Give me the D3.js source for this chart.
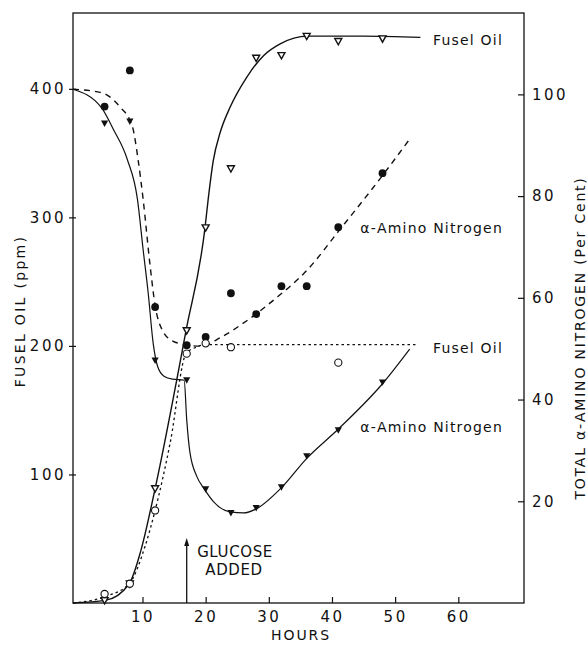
<!DOCTYPE html>
<html>
<head>
<meta charset="utf-8">
<script src="https://cdn.jsdelivr.net/npm/d3@7/dist/d3.min.js"></script>
<style>
  body { margin: 0; background: #fff; }
  svg { display: block; }
  text { font-family: "DejaVu Sans", sans-serif; fill: #111; }
</style>
</head>
<body>
<script>
// ---- data ----
const hourTicks = [10, 20, 30, 40, 50, 60];
const ppmTicks = [100, 200, 300, 400];
const pctTicks = [20, 40, 60, 80, 100];

// experiment A (solid lines): fusel oil (open triangles, ppm), amino N (filled triangles, %)
const fuselA = [[4, 2], [8, 15], [12, 89], [17, 212], [20, 292], [24, 338], [28, 424], [32, 426], [36, 441], [41, 437], [48, 439]];
const aminoA = [[4, 94.3], [8, 94.7], [12, 47.7], [17, 43.8], [20, 22.4], [24, 17.7], [28, 18.7], [32, 22.8], [36, 28.9], [41, 34], [48, 43.4]];
// experiment B: fusel oil (open circles, dotted, ppm), amino N (filled circles, dashed, %)
const fuselB = [[4, 7], [8, 15], [12, 72], [17, 194], [20, 202], [24, 199], [41, 187]];
const aminoB = [[4, 97.6], [8, 104.7], [12, 58.2], [17, 50.7], [20, 52.3], [24, 60.9], [28, 56.8], [32, 62.3], [36, 62.3], [41, 73.9], [48, 84.5]];

// hand-drawn curves
const fuselCurveA = [[-1, 0], [4.1, 2], [7.9, 15], [9.7, 40], [12, 89], [16.9, 212], [19.9, 292], [20.4, 314], [21.2, 344], [22.3, 366], [23.9, 386], [26.5, 409], [29.2, 426], [31.8, 435], [36.1, 441], [45, 441], [54, 440]];
const fuselCurveB = [[-1, 0], [4.1, 5], [7.9, 15], [10.4, 44], [12, 72], [14.4, 125], [16.9, 194], [18.5, 199], [20, 201], [24, 201], [40, 201], [53.5, 201]];
const aminoCurveA = [[-1, 101], [3.5, 97.4], [5.4, 93.1], [7.6, 87.2], [9.2, 79.4], [10.1, 69.5], [10.9, 61], [11.7, 51], [12.4, 46.5], [13.4, 44.6], [14.8, 44], [16.6, 43.8], [17, 36.1], [17.5, 29.7], [18.6, 24.9], [19.8, 22.4], [21.2, 20], [23.9, 17.9], [26, 17.7], [28, 18.5], [32.1, 22.8], [35.9, 28.3], [41.1, 34.3], [48.2, 43.4], [52.3, 49.9]];
const aminoCurveB = [[-1, 101], [3.3, 100.4], [6.4, 97.6], [8.4, 93.7], [9.3, 87.2], [10.1, 79.4], [11.2, 66.4], [12, 58.5], [13.2, 53.5], [14.8, 51.5], [16.4, 50.9], [19.1, 50.5], [22.5, 52.3], [26.4, 55.4], [31, 59.8], [36.1, 65.5], [41.3, 73.5], [48.4, 84.7], [52.3, 91.2]];

const glucoseHour = 17;

// ---- layout ----
const W = 588, H = 646;
const plotL = 73, plotR = 524, plotT = 13, plotB = 603;

const svg = d3.select("body").append("svg").attr("width", W).attr("height", H);

const x = d3.scaleLinear().domain([-1, 70.4]).range([plotL, plotR]);
const yL = d3.scaleLinear().domain([0, 459]).range([plotB, plotT]);
const yR = d3.scaleLinear().domain([0, 116]).range([plotB, plotT]);

const ink = "#111";

// frame
svg.append("rect")
  .attr("x", plotL).attr("y", plotT)
  .attr("width", plotR - plotL).attr("height", plotB - plotT)
  .attr("fill", "none").attr("stroke", ink).attr("stroke-width", 1.3);

// axes
const xAxis = svg.append("g").attr("transform", `translate(0,${plotB})`)
  .call(d3.axisBottom(x).tickValues(hourTicks).tickSizeInner(-6).tickSizeOuter(0).tickPadding(8));
const lAxis = svg.append("g").attr("transform", `translate(${plotL},0)`)
  .call(d3.axisLeft(yL).tickValues(ppmTicks).tickSizeInner(4).tickSizeOuter(0).tickPadding(3));
const rAxis = svg.append("g").attr("transform", `translate(${plotR},0)`)
  .call(d3.axisRight(yR).tickValues(pctTicks).tickSizeInner(-6).tickSizeOuter(0).tickPadding(8));

[xAxis, lAxis, rAxis].forEach(g => {
  g.select(".domain").remove();
  g.selectAll(".tick line").attr("stroke", ink).attr("stroke-width", 1.2);
  g.selectAll(".tick text")
    .style("font-family", "DejaVu Sans, sans-serif")
    .style("font-size", "15px")
    .style("letter-spacing", "2.5px")
    .attr("fill", ink);
});
lAxis.selectAll(".tick line").attr("x1", 3);

// curves
const lineL = d3.line().x(d => x(d[0])).y(d => yL(d[1])).curve(d3.curveMonotoneX);
const lineR = d3.line().x(d => x(d[0])).y(d => yR(d[1])).curve(d3.curveMonotoneX);

svg.append("path").attr("d", lineL(fuselCurveA))
  .attr("fill", "none").attr("stroke", ink).attr("stroke-width", 1.4);
svg.append("path").attr("d", lineR(aminoCurveA))
  .attr("fill", "none").attr("stroke", ink).attr("stroke-width", 1.2);
svg.append("path").attr("d", lineR(aminoCurveB))
  .attr("fill", "none").attr("stroke", ink).attr("stroke-width", 1.4).attr("stroke-dasharray", "6,5");
svg.append("path").attr("d", lineL(fuselCurveB))
  .attr("fill", "none").attr("stroke", ink).attr("stroke-width", 1.3).attr("stroke-dasharray", "2.5,3");

// markers
const tri = (cx, cy, s) => `M${cx - s},${cy - s * 0.8}L${cx + s},${cy - s * 0.8}L${cx},${cy + s}Z`;

svg.append("g").selectAll("path").data(fuselA).join("path")
  .attr("d", d => tri(x(d[0]), yL(d[1]), 3.5))
  .attr("fill", "#fff").attr("stroke", ink).attr("stroke-width", 1.4);
svg.append("g").selectAll("path").data(aminoA).join("path")
  .attr("d", d => tri(x(d[0]), yR(d[1]), 3.6))
  .attr("fill", ink);
svg.append("g").selectAll("circle").data(aminoB).join("circle")
  .attr("cx", d => x(d[0])).attr("cy", d => yR(d[1])).attr("r", 3.9)
  .attr("fill", ink);
svg.append("g").selectAll("circle").data(fuselB).join("circle")
  .attr("cx", d => x(d[0])).attr("cy", d => yL(d[1])).attr("r", 3.6)
  .attr("fill", "#fff").attr("stroke", ink).attr("stroke-width", 1.1);

// curve labels
const labelStyle = sel => sel
  .attr("text-anchor", "end")
  .style("font-size", "14px")
  .style("letter-spacing", "1.2px");
svg.append("text").attr("x", 503).attr("y", 45).text("Fusel Oil").call(labelStyle);
svg.append("text").attr("x", 503).attr("y", 233).text("α-Amino Nitrogen").call(labelStyle);
svg.append("text").attr("x", 503).attr("y", 353).text("Fusel Oil").call(labelStyle);
svg.append("text").attr("x", 503).attr("y", 432).text("α-Amino Nitrogen").call(labelStyle);

// glucose arrow
const gx = x(glucoseHour);
svg.append("line").attr("x1", gx).attr("x2", gx).attr("y1", plotB).attr("y2", 544)
  .attr("stroke", ink).attr("stroke-width", 1.3);
svg.append("path").attr("d", `M${gx - 2.5},${546}L${gx + 2.5},${546}L${gx},${538}Z`).attr("fill", ink);
svg.append("text").attr("x", 235).attr("y", 557).attr("text-anchor", "middle")
  .style("font-size", "15px").style("letter-spacing", "0.6px").text("GLUCOSE");
svg.append("text").attr("x", 234).attr("y", 575).attr("text-anchor", "middle")
  .style("font-size", "15px").style("letter-spacing", "0.6px").text("ADDED");

// axis titles
svg.append("text").attr("x", 301).attr("y", 640).attr("text-anchor", "middle")
  .style("font-size", "14px").style("letter-spacing", "1.9px").text("HOURS");
svg.append("text").attr("transform", "translate(25,311) rotate(-90)").attr("text-anchor", "middle")
  .style("font-size", "14px").style("letter-spacing", "2.3px").text("FUSEL  OIL  (ppm)");
svg.append("text").attr("transform", "translate(585,338) rotate(-90)").attr("text-anchor", "middle")
  .style("font-size", "14px").style("letter-spacing", "1.8px").text("TOTAL  α-AMINO  NITROGEN  (Per Cent)");
</script>
</body>
</html>
